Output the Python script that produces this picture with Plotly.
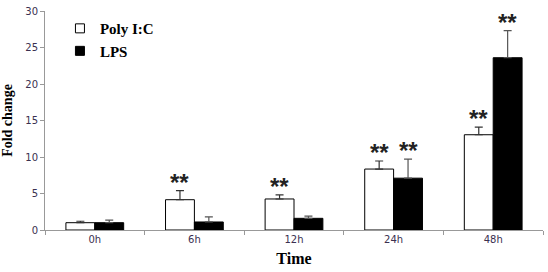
import plotly.graph_objects as go

categories = ["0h", "6h", "12h", "24h", "48h"]
poly_ic = [1.0, 4.15, 4.25, 8.35, 13.05]
poly_ic_err = [0.2, 1.25, 0.55, 1.1, 1.05]
lps = [1.0, 1.1, 1.6, 7.1, 23.6]
lps_err = [0.35, 0.7, 0.3, 2.6, 3.7]
poly_sig = ["", "**", "**", "**", "**"]
lps_sig = ["", "", "", "**", "**"]

fig = go.Figure()
fig.add_trace(go.Bar(
    name="Poly I:C", x=categories, y=poly_ic, showlegend=False,
    marker=dict(color="white", line=dict(color="black", width=1)),
    error_y=dict(type="data", array=poly_ic_err, arrayminus=[0]*5, symmetric=False,
                 color="#333333", thickness=1.2, width=4),
))
fig.add_trace(go.Bar(
    name="LPS", x=categories, y=lps, showlegend=False,
    marker=dict(color="black", line=dict(color="black", width=1)),
    error_y=dict(type="data", array=lps_err, arrayminus=[0]*5, symmetric=False,
                 color="#555555", thickness=1.2, width=4),
))
# legend entries with small square swatches
fig.add_trace(go.Scatter(
    name="<b>Poly I:C</b>", x=[None], y=[None], mode="markers",
    marker=dict(symbol="square", size=9, color="white", line=dict(color="black", width=1)),
))
fig.add_trace(go.Scatter(
    name="<b>LPS</b>", x=[None], y=[None], mode="markers",
    marker=dict(symbol="square", size=9, color="black", line=dict(color="black", width=1)),
))

half = 14.5
for cat, v, e, s in zip(categories, poly_ic, poly_ic_err, poly_sig):
    if s:
        fig.add_annotation(x=cat, y=v + e, text="<b>" + s + "</b>", xref="x", yref="y", showarrow=False,
                           xshift=-half, yanchor="bottom", yshift=-7,
                           font=dict(family="Liberation Sans", size=24, color="#222222"))
for cat, v, e, s in zip(categories, lps, lps_err, lps_sig):
    if s:
        fig.add_annotation(x=cat, y=v + e, text="<b>" + s + "</b>", xref="x", yref="y", showarrow=False,
                           xshift=half, yanchor="bottom", yshift=-7,
                           font=dict(family="Liberation Sans", size=24, color="#222222"))

fig.update_layout(
    width=548, height=272,
    margin=dict(l=43, r=5, t=8, b=42),
    plot_bgcolor="white", paper_bgcolor="white",
    barmode="group", bargap=0.42, bargroupgap=0,
    showlegend=True,
    legend=dict(x=0.03, y=0.995, xanchor="left", yanchor="top",
                font=dict(family="Liberation Serif", size=15, color="black"),
                bgcolor="rgba(0,0,0,0)", itemwidth=30, tracegroupgap=0),
    xaxis=dict(
        title=dict(text="<b>Time</b>", font=dict(family="Liberation Serif", size=16, color="black"), standoff=8),
        showline=True, linecolor="#999999", linewidth=1,
        ticks="outside", tickson="boundaries", ticklen=4, tickcolor="#999999",
        tickfont=dict(family="DejaVu Sans", size=10, color="#3a3050"),
        showgrid=False,
    ),
    yaxis=dict(
        title=dict(text="<b>Fold change</b>", font=dict(family="Liberation Serif", size=14, color="black"), standoff=10),
        range=[0, 30], dtick=5,
        showline=True, linecolor="#999999", linewidth=1,
        ticks="outside", ticklen=4, tickcolor="#999999",
        tickfont=dict(family="DejaVu Sans", size=10, color="#3a3050"),
        showgrid=False, zeroline=False,
    ),
)

fig.write_html("out.html", config={"displayModeBar": False},
               post_script="document.body.style.margin='0';")
